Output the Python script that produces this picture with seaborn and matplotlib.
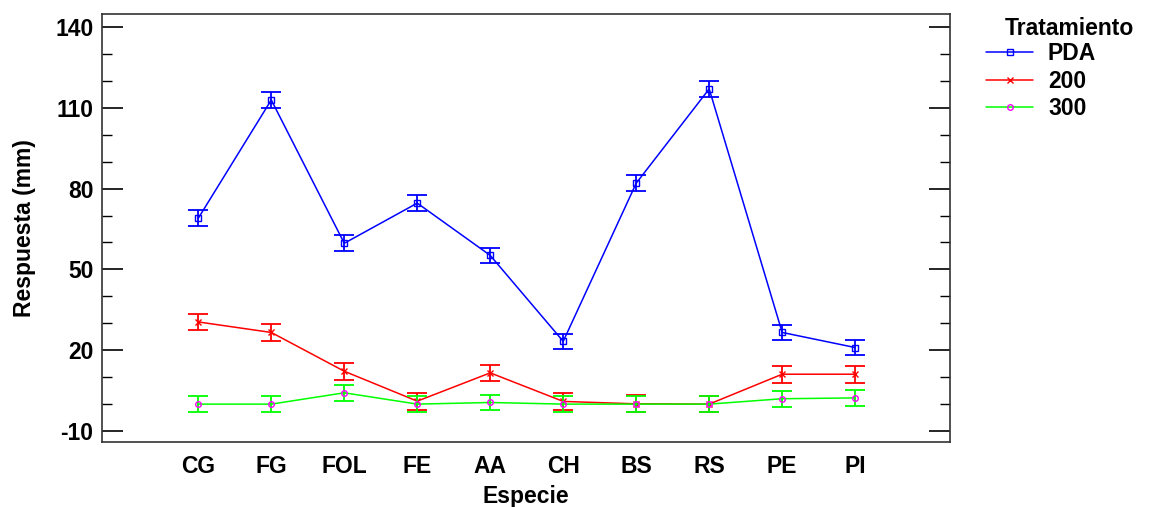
import numpy as np
import pandas as pd
import matplotlib
matplotlib.use("Agg")
import matplotlib.pyplot as plt
from matplotlib.ticker import MultipleLocator
import seaborn as sns

especies = ["CG", "FG", "FOL", "FE", "AA", "CH", "BS", "RS", "PE", "PI"]
tratamientos = ["PDA", "200", "300"]

pda = [69.0, 112.9, 59.7, 74.6, 55.2, 23.3, 82.0, 117.0, 26.6, 21.0]
t200 = [30.5, 26.6, 12.2, 1.1, 11.6, 1.0, 0.1, 0.0, 11.1, 11.1]
t300 = [0.0, 0.0, 4.2, 0.0, 0.6, 0.0, 0.0, 0.0, 2.0, 2.3]
err_pda = [2.9] * 10
err_200 = [3.1] * 10
err_300 = [2.9] * 10

line_colors = {"PDA": "#0000ff", "200": "#ff0000", "300": "#00ff00"}
marker_colors = {"PDA": "#0000ff", "200": "#ff0000", "300": "#ff00ff"}
markers = {"PDA": "s", "200": "x", "300": "o"}

df = pd.DataFrame({
    "pos": list(range(len(especies))) * 3,
    "especie": especies * 3,
    "tratamiento": np.repeat(tratamientos, len(especies)),
    "respuesta": pda + t200 + t300,
    "err": err_pda + err_200 + err_300,
})

sns.set_style("white")
plt.rcParams["font.family"] = ["Liberation Sans", "DejaVu Sans"]
plt.rcParams["font.weight"] = "bold"
plt.rcParams["axes.unicode_minus"] = False
for k in ["text.color", "axes.labelcolor", "xtick.color", "ytick.color"]:
    plt.rcParams[k] = "black"

fig = plt.figure(figsize=(11.52, 5.07), dpi=100)
ax = fig.add_axes([0.0885, 0.128, 0.7362, 0.8444])

for t in tratamientos:
    d = df[df["tratamiento"] == t]
    ax.errorbar(d["pos"], d["respuesta"], yerr=d["err"], fmt="none",
                ecolor=line_colors[t], elinewidth=1.3, capsize=7, capthick=1.3)
    sns.lineplot(data=d, x="pos", y="respuesta", ax=ax, color=line_colors[t],
                 linewidth=1.1, marker=markers[t], markersize=4,
                 markerfacecolor="none", markeredgecolor=marker_colors[t],
                 markeredgewidth=1.0, label=t)

ax.set_xlim(-1.32, 10.3)
ax.set_ylim(-14.1, 144.8)
ax.set_xticks(range(len(especies)))
ax.set_xticklabels(especies)
ax.set_yticks([-10, 20, 50, 80, 110, 140])
ax.yaxis.set_minor_locator(MultipleLocator(10))
ax.tick_params(axis="x", length=0, pad=9, labelsize=16.5)
ax.tick_params(axis="y", which="major", direction="in", length=15, width=1.2,
               left=True, right=True, labelsize=16.5, pad=6)
ax.tick_params(axis="y", which="minor", direction="in", length=7, width=1.0,
               left=True, right=True)
for lbl in ax.get_xticklabels() + ax.get_yticklabels():
    lbl.set_fontweight("bold")

for s in ax.spines.values():
    s.set_color("#333333")
    s.set_linewidth(1.2)

ax.set_xlabel("Especie", fontsize=16.5, fontweight="bold", labelpad=5)
ax.set_ylabel("Respuesta (mm)", fontsize=16.5, fontweight="bold", labelpad=14)

leg = ax.legend(loc="upper left", bbox_to_anchor=(0.848, 0.935),
                bbox_transform=fig.transFigure, frameon=False,
                prop={"size": 16.5, "weight": "bold"}, handlelength=2.05,
                handletextpad=0.65, labelspacing=0.2, borderaxespad=0)
fig.text(0.872, 0.944, "Tratamiento", fontsize=16.5, fontweight="bold",
         ha="left", va="center")

fig.savefig("out.png", dpi=100)
